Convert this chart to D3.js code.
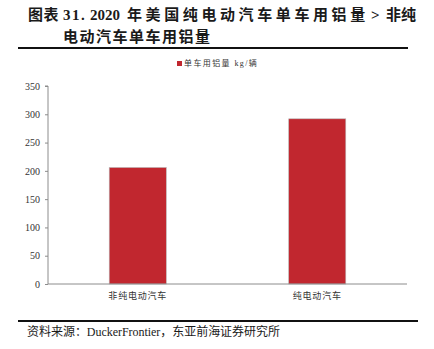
<!DOCTYPE html>
<html>
<head>
<meta charset="utf-8">
<script src="https://cdn.jsdelivr.net/npm/d3@7"></script>
<style>
  html, body { margin: 0; padding: 0; background: #fff; }
  svg { display: block; }
</style>
</head>
<body>
<svg id="chart" width="434" height="349"></svg>
<script>
// Aluminium content per vehicle, US 2020 (kg/vehicle)
const categories = ["非纯电动汽车", "纯电动汽车"];
const values = [206, 292];
const yTicks = [0, 50, 100, 150, 200, 250, 300, 350];
const seriesName = "单车用铝量 kg/辆";
const titleLine1 = ["图表", "31.", "2020", "年美国纯电动汽车单车用铝量", ">", "非纯"];
const titleLine2 = "电动汽车单车用铝量";
const sourceText = "资料来源：DuckerFrontier，东亚前海证券研究所";

const svg = d3.select("#chart");
const serif = "'Liberation Serif', 'Noto Sans CJK SC', serif";
const barColor = "#c1272f";

// Title block: first line is set in runs, each with its own position and tracking
const titleRuns = [
  { x: 28, ls: 0.5 },
  { x: 63, ls: 1.5 },
  { x: 90, ls: 0 },
  { x: 127, ls: 3.6 },
  { x: 371, ls: 0 },
  { x: 386, ls: 0 }
];
svg.append("g")
  .selectAll("text")
  .data(titleLine1)
  .join("text")
  .attr("x", (d, i) => titleRuns[i].x)
  .attr("y", 20)
  .style("letter-spacing", (d, i) => titleRuns[i].ls + "px")
  .style("font-family", serif).style("font-weight", "bold").style("font-size", "15px")
  .attr("fill", "#1a1a1a")
  .text(d => d);
svg.append("text")
  .attr("x", 63).attr("y", 42)
  .style("letter-spacing", "1.5px")
  .style("font-family", serif).style("font-weight", "bold").style("font-size", "15px")
  .attr("fill", "#1a1a1a")
  .text(titleLine2);
svg.append("line")
  .attr("x1", 18).attr("x2", 408).attr("y1", 48).attr("y2", 48)
  .attr("stroke", "#111").attr("stroke-width", 2);

// Plot area
const plot = { left: 48, right: 407, top: 86, bottom: 284 };

const x = d3.scaleBand()
  .domain(categories)
  .range([plot.left, plot.right])
  .paddingInner(0.682)
  .paddingOuter(0.341);

const y = d3.scaleLinear()
  .domain([0, 350])
  .range([plot.bottom, plot.top]);

// Bars
svg.append("g")
  .selectAll("rect")
  .data(values)
  .join("rect")
  .attr("x", (d, i) => x(categories[i]))
  .attr("width", x.bandwidth())
  .attr("y", d => y(d))
  .attr("height", d => y(0) - y(d))
  .attr("fill", barColor)
  .attr("stroke", "#b9b9b9")
  .attr("stroke-width", 0.6);

// Y axis
const yAxis = svg.append("g")
  .attr("transform", `translate(${plot.left},0)`)
  .call(d3.axisLeft(y).tickValues(yTicks).tickSize(3).tickPadding(5).tickFormat(d3.format("d")));
yAxis.select(".domain").attr("stroke", "#8c8c8c").attr("d", `M-3,${plot.top}H0V${plot.bottom}`);
yAxis.selectAll(".tick line").attr("stroke", "#8c8c8c");
yAxis.selectAll(".tick text")
  .style("font-family", serif).style("font-size", "10px").attr("fill", "#333");

// X axis
const xAxis = svg.append("g")
  .attr("transform", `translate(0,${plot.bottom})`)
  .call(d3.axisBottom(x).tickSize(0).tickPadding(9));
xAxis.select(".domain").attr("stroke", "#8c8c8c").attr("d", `M${plot.left},0H${plot.right}`);
xAxis.selectAll(".tick text")
  .style("font-family", serif).style("font-size", "9px").attr("fill", "#333")
  .style("letter-spacing", "0.8px");

// Legend
const legend = svg.append("g").attr("transform", "translate(177,61)");
legend.append("rect").attr("width", 5).attr("height", 5).attr("fill", barColor);
legend.append("text")
  .attr("x", 7).attr("y", 5)
  .style("font-family", serif).style("font-size", "8px").attr("fill", "#333")
  .style("letter-spacing", "1.4px")
  .text(seriesName);

// Footer
svg.append("line")
  .attr("x1", 18).attr("x2", 418).attr("y1", 321).attr("y2", 321)
  .attr("stroke", "#111").attr("stroke-width", 2);
svg.append("text")
  .attr("x", 27).attr("y", 336)
  .attr("textLength", 253).attr("lengthAdjust", "spacing")
  .style("font-family", serif).style("font-size", "12px").attr("fill", "#1a1a1a")
  .text(sourceText);
</script>
</body>
</html>
